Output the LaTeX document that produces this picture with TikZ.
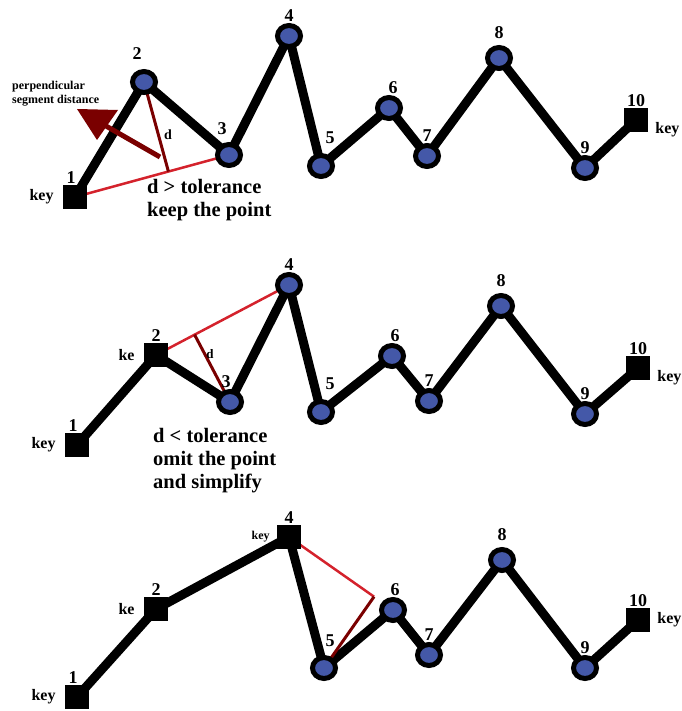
\documentclass[tikz,border=0pt]{standalone}
\usepackage{fontspec}
\setmainfont{Liberation Serif}
\usetikzlibrary{calc,backgrounds,shapes.geometric}
\definecolor{ptblue}{RGB}{68,88,168}
\definecolor{tolred}{RGB}{212,34,44}
\definecolor{perpred}{RGB}{122,0,0}

\begin{document}
\begin{tikzpicture}[x=1pt, y=-1pt,
    pt/.style={ellipse, draw=black, line width=5pt, fill=ptblue,
        minimum width=23pt, minimum height=21pt, inner sep=0pt,
        label distance=4pt},
    keypt/.style={rectangle, fill=black, minimum size=24pt, inner sep=0pt,
        label distance=2pt},
    num/.style={font=\bfseries\fontsize{18}{18}\selectfont, inner sep=1pt},
    keylbl/.style={font=\bfseries\fontsize{16}{16}\selectfont, inner sep=1pt},
    smallkey/.style={font=\bfseries\fontsize{12}{12}\selectfont, inner sep=1pt},
    chain/.style={line width=9pt, black},
    tol/.style={line width=2.5pt, tolred},
    perp/.style={line width=3pt, perpred},
    note/.style={font=\bfseries\fontsize{20.5}{23}\selectfont, align=left,
        inner sep=0pt, anchor=base west}]
\useasboundingbox (0,0) rectangle (681,711);

% first line: point 3 is kept
\node[keypt, label={[num,xshift=-4pt]above:1}, label={[keylbl,label distance=8pt]left:key}] (a1) at (75,197) {};
\node[pt, label={[num,xshift=-7pt,label distance=8pt]above:2}] (a2) at (144,82) {};
\node[pt, label={[num,xshift=-7pt,label distance=6pt]above:3}] (a3) at (229,155) {};
\node[pt, label={[num]above:4}] (a4) at (289,36) {};
\node[pt, label={[num,xshift=9pt,label distance=8pt]above:5}] (a5) at (321,166) {};
\node[pt, label={[num,xshift=4pt]above:6}] (a6) at (389,108) {};
\node[pt, label={[num]above:7}] (a7) at (427,156) {};
\node[pt, label={[num,label distance=5pt]above:8}] (a8) at (499,58) {};
\node[pt, label={[num]above:9}] (a9) at (585,168) {};
\node[keypt, label={[num]above:10}, label={[keylbl,label distance=6pt]-5:key}] (a10) at (636,120) {};
\coordinate (a13) at ($(a1)!(a2)!(a3)$);
\node[font=\bfseries\fontsize{14}{14}\selectfont] (da) at (168,135) {d};
\node[font=\bfseries\fontsize{12}{14}\selectfont, align=left, inner sep=0pt, anchor=base west]
    (perplbl) at (12,104) {perpendicular\\segment distance};
\node[note] (keepnote) at (147,216) {d > tolerance\\keep the point};

% second line: point 3 is dropped
\node[keypt, label={[num,xshift=-4pt]above:1}, label={[keylbl,label distance=8pt]left:key}] (b1) at (77,445) {};
\node[keypt, label={[num]above:2}, label={[keylbl,label distance=8pt]left:ke}] (b2) at (156,355) {};
\node[pt, label={[num,xshift=-4pt]above:3}] (b3) at (230,402) {};
\node[pt, label={[num]above:4}] (b4) at (289,285) {};
\node[pt, label={[num,xshift=9pt,label distance=8pt]above:5}] (b5) at (321,412) {};
\node[pt, label={[num,xshift=3pt]above:6}] (b6) at (392,356) {};
\node[pt, label={[num]above:7}] (b7) at (429,401) {};
\node[pt, label={[num,label distance=5pt]above:8}] (b8) at (501,306) {};
\node[pt, label={[num]above:9}] (b9) at (585,414) {};
\node[keypt, label={[num]above:10}, label={[keylbl,label distance=6pt]-5:key}] (b10) at (638,368) {};
\coordinate (b24) at ($(b2)!(b3)!(b4)$);
\node[font=\bfseries\fontsize{13}{13}\selectfont] (db) at (210,354) {d};
\node[note] (omitnote) at (153,488) {d < tolerance\\omit the point\\and simplify};

% third line: after simplification
\node[keypt, label={[num,xshift=-4pt]above:1}, label={[keylbl,label distance=8pt]left:key}] (c1) at (77,697) {};
\node[keypt, label={[num]above:2}, label={[keylbl,label distance=8pt]left:ke}] (c2) at (156,609) {};
\node[keypt, label={[num]above:4}, label={[smallkey,label distance=6pt]left:key}] (c4) at (289,537) {};
\node[pt, label={[num,xshift=6pt,label distance=7pt]above:5}] (c5) at (324,668) {};
\node[pt, label={[num,xshift=2pt]above:6}] (c6) at (393,610) {};
\node[pt, label={[num]above:7}] (c7) at (429,655) {};
\node[pt, label={[num,label distance=5pt]above:8}] (c8) at (502,560) {};
\node[pt, label={[num]above:9}] (c9) at (585,668) {};
\node[keypt, label={[num]above:10}, label={[keylbl,label distance=6pt]0:key}] (c10) at (638,620) {};
\coordinate (c46) at ($(c4)!(c5)!(c6)$);

\begin{pgfonlayer}{background}
    \draw[chain] (a1.center) -- (a2.center) -- (a3.center) -- (a4.center) -- (a5.center)
        -- (a6.center) -- (a7.center) -- (a8.center) -- (a9.center) -- (a10.center);
    \draw[tol] (a1.center) -- (a3.center);
    \draw[perp] (a2.center) -- (a13);
    % arrow pointing at the label
    \fill[perpred] (77,109) -- (118,110) -- (97,140) -- cycle;
    \draw[perpred, line width=5pt] (160,157) -- (106,126);

    \draw[chain] (b1.center) -- (b2.center) -- (b3.center) -- (b4.center) -- (b5.center)
        -- (b6.center) -- (b7.center) -- (b8.center) -- (b9.center) -- (b10.center);
    \draw[tol] (b2.center) -- (b4.center);
    \draw[perp] (b3.center) -- (b24);

    \draw[chain] (c1.center) -- (c2.center) -- (c4.center) -- (c5.center)
        -- (c6.center) -- (c7.center) -- (c8.center) -- (c9.center) -- (c10.center);
    \draw[tol] (c4.center) -- (c46);
    \draw[perp] (c5.center) -- (c46);
\end{pgfonlayer}
\end{tikzpicture}
\end{document}
